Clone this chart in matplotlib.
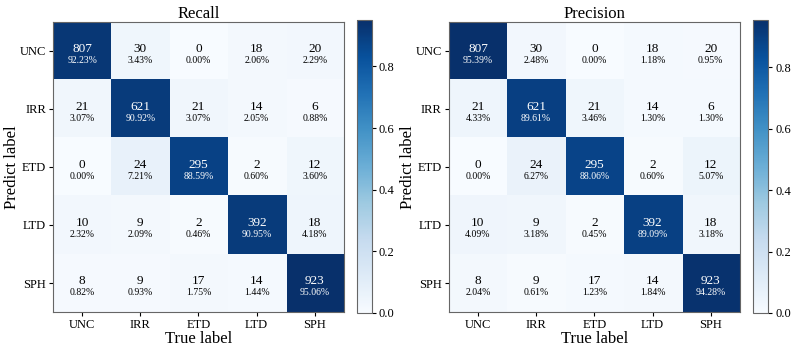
import numpy as np
import matplotlib
matplotlib.use("Agg")
import matplotlib.pyplot as plt

plt.rcParams['font.family'] = ['Liberation Serif', 'DejaVu Serif']

labels = ['UNC', 'IRR', 'ETD', 'LTD', 'SPH']

counts = [
    [807, 30, 0, 18, 20],
    [21, 621, 21, 14, 6],
    [0, 24, 295, 2, 12],
    [10, 9, 2, 392, 18],
    [8, 9, 17, 14, 923],
]

recall_pct = [
    [92.23, 3.43, 0.00, 2.06, 2.29],
    [3.07, 90.92, 3.07, 2.05, 0.88],
    [0.00, 7.21, 88.59, 0.60, 3.60],
    [2.32, 2.09, 0.46, 90.95, 4.18],
    [0.82, 0.93, 1.75, 1.44, 95.06],
]

precision_pct = [
    [95.39, 2.48, 0.00, 1.18, 0.95],
    [4.33, 89.61, 3.46, 1.30, 1.30],
    [0.00, 6.27, 88.06, 0.60, 5.07],
    [4.09, 3.18, 0.45, 89.09, 3.18],
    [2.04, 0.61, 1.23, 1.84, 94.28],
]


def draw_matrix(fig, ax_rect, cb_rect, pct, title):
    ax = fig.add_axes(ax_rect)
    cax = fig.add_axes(cb_rect)
    vals = np.array(pct) / 100.0
    im = ax.imshow(vals, cmap='Blues', vmin=0, vmax=vals.max(), aspect='auto')
    cb = fig.colorbar(im, cax=cax)
    cb.set_ticks([0.0, 0.2, 0.4, 0.6, 0.8])
    cb.ax.tick_params(labelsize=9, length=3, pad=2)
    cb.outline.set_edgecolor('#666666')

    thresh = vals.max() / 2
    for i in range(len(labels)):
        for j in range(len(labels)):
            color = 'white' if vals[i, j] > thresh else 'black'
            ax.text(j, i - 0.04, str(counts[i][j]), ha='center', va='center',
                    fontsize=9.5, color=color)
            ax.text(j, i + 0.17, f'{pct[i][j]:.2f}%', ha='center', va='center',
                    fontsize=7, color=color)

    ax.set_xticks(range(len(labels)))
    ax.set_yticks(range(len(labels)))
    ax.set_xticklabels(labels, fontsize=9)
    ax.set_yticklabels(labels, fontsize=9)
    ax.tick_params(length=3, pad=2)
    ax.set_xlabel('True label', fontsize=12, labelpad=0)
    ax.set_ylabel('Predict label', fontsize=12, labelpad=0)
    ax.set_title(title, fontsize=12, pad=2)
    for sp in ax.spines.values():
        sp.set_edgecolor('#666666')
    return ax


fig = plt.figure(figsize=(7.93, 3.52), dpi=100)

draw_matrix(fig, [0.0668, 0.1136, 0.367, 0.824], [0.450, 0.111, 0.019, 0.832],
            recall_pct, 'Recall')
draw_matrix(fig, [0.566, 0.1136, 0.367, 0.824], [0.9496, 0.111, 0.019, 0.832],
            precision_pct, 'Precision')

fig.savefig('out.png', dpi=100)
